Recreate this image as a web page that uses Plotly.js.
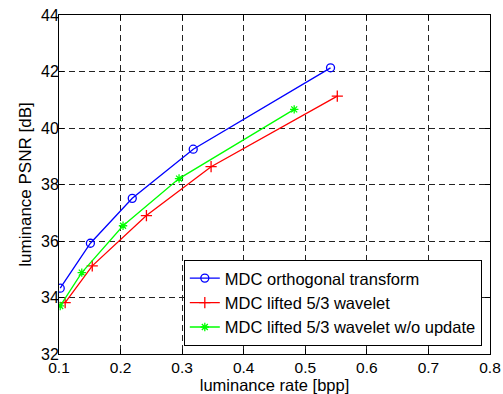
<!DOCTYPE html>
<html><head><meta charset="utf-8">
<script src="https://cdn.plot.ly/plotly-3.0.1.min.js"></script>
<style>body{margin:0;background:#fff}#c{width:503px;height:394px}</style>
</head><body><div id="c"></div>
<script>
const seriesNames = ["MDC orthogonal transform", "MDC lifted 5/3 wavelet", "MDC lifted 5/3 wavelet w/o update"];
const orthoRate = [0.102, 0.151, 0.219, 0.318, 0.541];
const orthoPSNR = [34.33, 35.92, 37.51, 39.25, 42.13];
const liftedRate = [0.110, 0.154, 0.242, 0.347, 0.552];
const liftedPSNR = [33.82, 35.12, 36.90, 38.63, 41.13];
const noUpdRate = [0.102, 0.137, 0.204, 0.295, 0.482];
const noUpdPSNR = [33.70, 34.88, 36.54, 38.21, 40.66];
const xTicks = [0.1, 0.2, 0.3, 0.4, 0.5, 0.6, 0.7, 0.8];
const yTicks = [32, 34, 36, 38, 40, 42, 44];

const mk = (x, y, name, color, symbol, size) => ({
  x, y, name, type: 'scatter', mode: 'lines+markers',
  line: {color, width: 1.3},
  marker: {symbol, size, color, line: {color, width: 1.3}}
});
const data = [
  mk(orthoRate, orthoPSNR, seriesNames[0], '#0000ff', 'circle-open', 8),
  mk(liftedRate, liftedPSNR, seriesNames[1], '#ff0000', 'cross-thin-open', 8),
  mk(noUpdRate, noUpdPSNR, seriesNames[2], '#00ff00', 'asterisk-open', 7)
];
const ax = {
  showline: true, linecolor: '#000', linewidth: 1, mirror: 'ticks',
  ticks: 'inside', ticklen: 5, tickcolor: '#000',
  showgrid: true, gridcolor: '#222', griddash: '6px,4px', gridwidth: 1,
  zeroline: false, tickfont: {size: 16, color: '#000'}
};
const layout = {
  width: 503, height: 394,
  margin: {l: 59, r: 13, t: 15, b: 40},
  paper_bgcolor: '#fff', plot_bgcolor: '#fff',
  font: {family: 'Liberation Sans, Arial, sans-serif', color: '#000'},
  showlegend: true,
  legend: {x: 0.981, y: 0.024, xanchor: 'right', yanchor: 'bottom',
    bordercolor: '#000', borderwidth: 1, bgcolor: '#fff',
    font: {size: 16.5, color: '#000'}, tracegroupgap: 0, itemwidth: 30},
  xaxis: Object.assign({}, ax, {range: [0.1, 0.8], tickvals: xTicks, ticktext: xTicks.map(v => v.toFixed(1)),
    tickfont: {size: 15.5, color: '#000'}, ticklabelstandoff: -1,
    title: {text: 'luminance rate [bpp]', font: {size: 16.5}, standoff: 2}}),
  yaxis: Object.assign({}, ax, {range: [32, 44], tickvals: yTicks, ticktext: yTicks.map(String),
    ticklabelstandoff: -4,
    title: {text: 'luminance PSNR [dB]', font: {size: 17}, standoff: 5}})
};
Plotly.newPlot('c', data, layout, {displayModeBar: false, staticPlot: true});
</script></body></html>
